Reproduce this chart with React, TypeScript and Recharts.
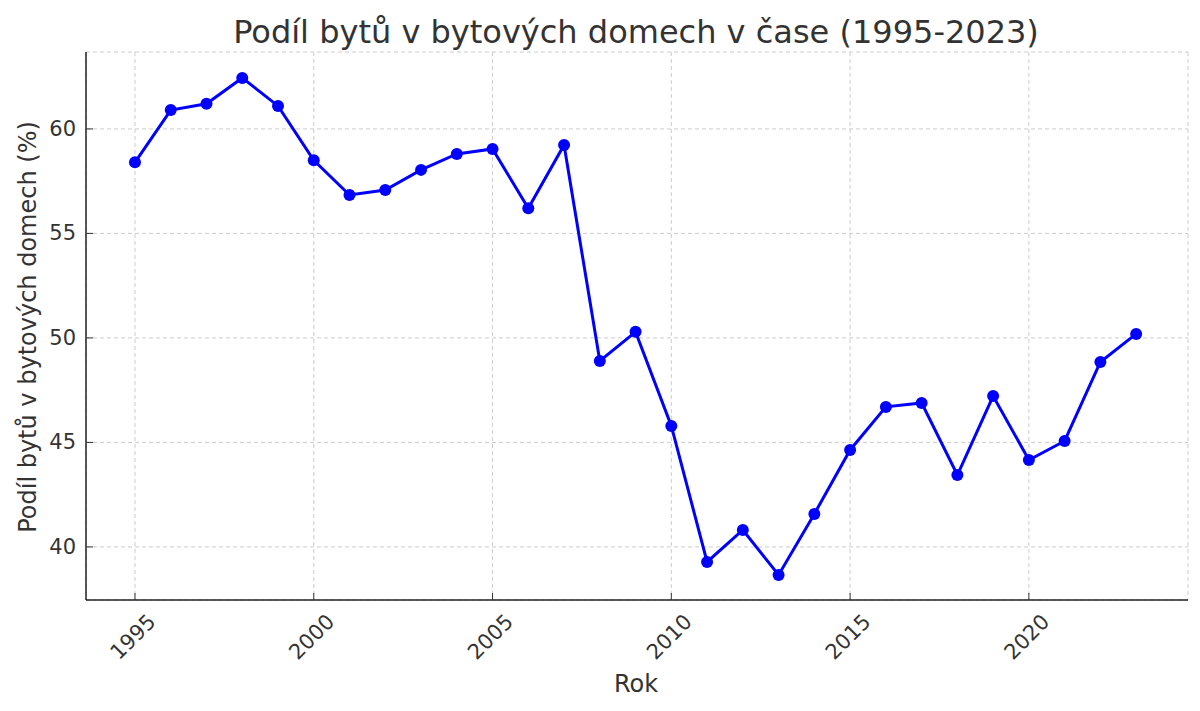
import React from 'react'
import { LineChart, Line, XAxis, YAxis, CartesianGrid } from 'recharts'

const years = [
  1995, 1996, 1997, 1998, 1999, 2000, 2001, 2002, 2003, 2004, 2005, 2006, 2007, 2008, 2009,
  2010, 2011, 2012, 2013, 2014, 2015, 2016, 2017, 2018, 2019, 2020, 2021, 2022, 2023,
]
const shares = [
  58.4, 60.9, 61.2, 62.44, 61.1, 58.5, 56.84, 57.08, 58.04, 58.8, 59.04, 56.2, 59.23, 48.9, 50.29,
  45.79, 39.28, 40.81, 38.66, 41.58, 44.64, 46.7, 46.89, 43.44, 47.22, 44.16, 45.07, 48.85, 50.19,
]
const xTicks = [1995, 2000, 2005, 2010, 2015, 2020]
const yTicks = [40, 45, 50, 55, 60]

const data = years.map((rok, i) => ({ rok, podil: shares[i] }))

const FONT = '"DejaVu Sans", sans-serif'
const TEXT = '#333'

// matplotlib-style ticks: short mark inside the axes, label rotated 45deg
function XTick(props: any) {
  const { x, y, payload } = props
  return (
    <g>
      <line x1={x} y1={y - 7} x2={x} y2={y} stroke={TEXT} strokeWidth={1} />
      <text
        transform={`translate(${x - 2},${y + 37}) rotate(-45)`}
        textAnchor="middle"
        dominantBaseline="central"
        fontSize={21}
        fontFamily={FONT}
        fill={TEXT}
      >
        {payload.value}
      </text>
    </g>
  )
}

function YTick(props: any) {
  const { x, y, payload } = props
  return (
    <g>
      <line x1={x} y1={y} x2={x + 7} y2={y} stroke={TEXT} strokeWidth={1} />
      <text
        x={x - 10}
        y={y}
        textAnchor="end"
        dominantBaseline="central"
        fontSize={21}
        fontFamily={FONT}
        fill={TEXT}
      >
        {payload.value}
      </text>
    </g>
  )
}

export default function App() {
  return (
    <div style={{ position: 'absolute', left: 0, top: 0, width: 1200, height: 711, background: '#fff' }}>
      <LineChart width={1200} height={711} data={data} margin={{ top: 52, right: 12, bottom: 0, left: 40 }}>
        <CartesianGrid stroke="#cccccc" strokeDasharray="4 3" />
        <XAxis
          dataKey="rok"
          type="number"
          domain={[1993.63, 2024.45]}
          ticks={xTicks}
          allowDataOverflow
          height={111}
          tickSize={0}
          tickMargin={0}
          tickLine={false}
          tick={<XTick />}
          axisLine={{ stroke: '#222', strokeWidth: 1.5 }}
        />
        <YAxis
          type="number"
          domain={[37.46, 63.68]}
          ticks={yTicks}
          allowDataOverflow
          width={46}
          tickSize={0}
          tickMargin={0}
          tickLine={false}
          tick={<YTick />}
          axisLine={{ stroke: '#222', strokeWidth: 1.5 }}
        />
        <Line
          dataKey="podil"
          stroke="#0000ff"
          strokeWidth={3}
          dot={{ r: 6, fill: '#0000ff', stroke: '#0000ff', strokeWidth: 0 }}
          isAnimationActive={false}
        />
        <text x={636} y={32} textAnchor="middle" dominantBaseline="central" fontSize={32} fontFamily={FONT} fill={TEXT}>
          Podíl bytů v bytových domech v čase (1995-2023)
        </text>
        <text x={636} y={684} textAnchor="middle" dominantBaseline="central" fontSize={24} fontFamily={FONT} fill={TEXT}>
          Rok
        </text>
        <text
          transform="translate(28,327) rotate(-90)"
          textAnchor="middle"
          dominantBaseline="central"
          fontSize={24}
          fontFamily={FONT}
          fill={TEXT}
        >
          Podíl bytů v bytových domech (%)
        </text>
      </LineChart>
    </div>
  )
}
